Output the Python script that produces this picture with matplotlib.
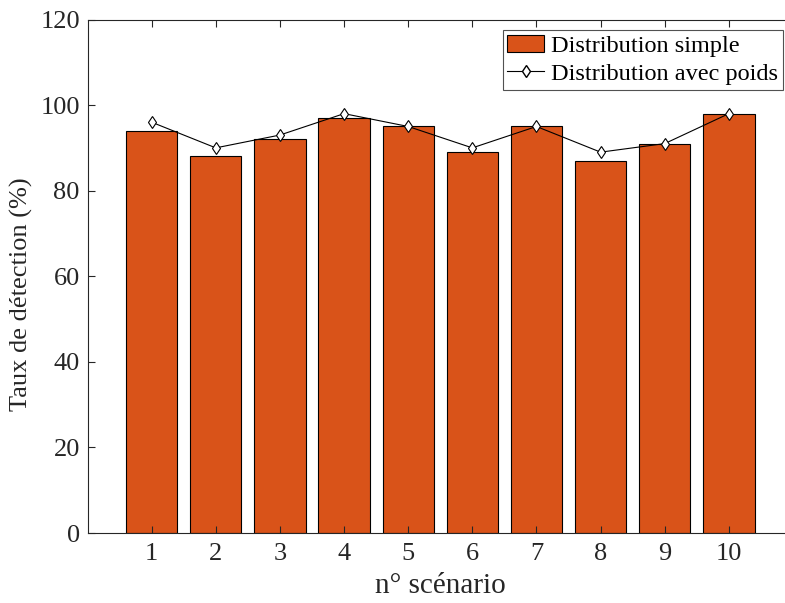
import matplotlib
matplotlib.use("Agg")
import matplotlib.pyplot as plt
from matplotlib.patches import Patch
from matplotlib.lines import Line2D

scenarios = [1, 2, 3, 4, 5, 6, 7, 8, 9, 10]
simple = [94, 88, 92, 97, 95, 89, 95, 87, 91, 98]
weighted = [96, 90, 93, 98, 95, 90, 95, 89, 91, 98]
yticks = [0, 20, 40, 60, 80, 100, 120]

plt.rcParams['font.family'] = ['Liberation Serif', 'DejaVu Serif']

fig = plt.figure(figsize=(7.85, 6.03), dpi=100)
ax = fig.add_axes([87.5/785, (603-533)/603, (793-87.5)/785, (533-19.5)/603])

bar_color = '#D95319'
ax.bar(scenarios, simple, width=0.8, color=bar_color, edgecolor='black', linewidth=0.8)
ax.plot(scenarios, weighted, color='black', linewidth=0.8, marker='d', markersize=6,
        markerfacecolor='white', markeredgecolor='black', markeredgewidth=0.8)

ax.set_xlim(0, 11)
ax.set_ylim(0, 120)
ax.set_xticks(scenarios)
ax.set_yticks(yticks)
ax.tick_params(axis='both', direction='in', length=5, width=0.8, colors='#262626',
               labelsize=19, top=True, right=False)
ax.tick_params(axis='x', pad=7)
ax.tick_params(axis='y', pad=5.5)
for side in ['left', 'bottom', 'top']:
    ax.spines[side].set_color('#262626')
    ax.spines[side].set_linewidth(0.8)
ax.spines['right'].set_visible(False)

ax.set_xlabel('n° scénario', fontsize=21, color='#262626', labelpad=6)
ax.set_ylabel('Taux de détection (%)', fontsize=19, color='#262626', labelpad=5)
ax.yaxis.label.set_y((533 - 294) / 513.5)

handles = [Patch(facecolor=bar_color, edgecolor='black', linewidth=0.8),
           Line2D([0], [0], color='black', linewidth=0.8, marker='d', markersize=6,
                  markerfacecolor='white', markeredgecolor='black')]
leg = fig.legend(handles, ['Distribution simple', 'Distribution avec poids'],
                 loc='upper right', bbox_to_anchor=(783/785, 1 - 30/603),
                 fontsize=17.5, frameon=True, fancybox=False, edgecolor='#262626',
                 borderpad=0.2, labelspacing=0.25, handlelength=1.5, handletextpad=0.3,
                 borderaxespad=0)
leg.get_frame().set_linewidth(0.8)

fig.savefig('out.png', dpi=100)
